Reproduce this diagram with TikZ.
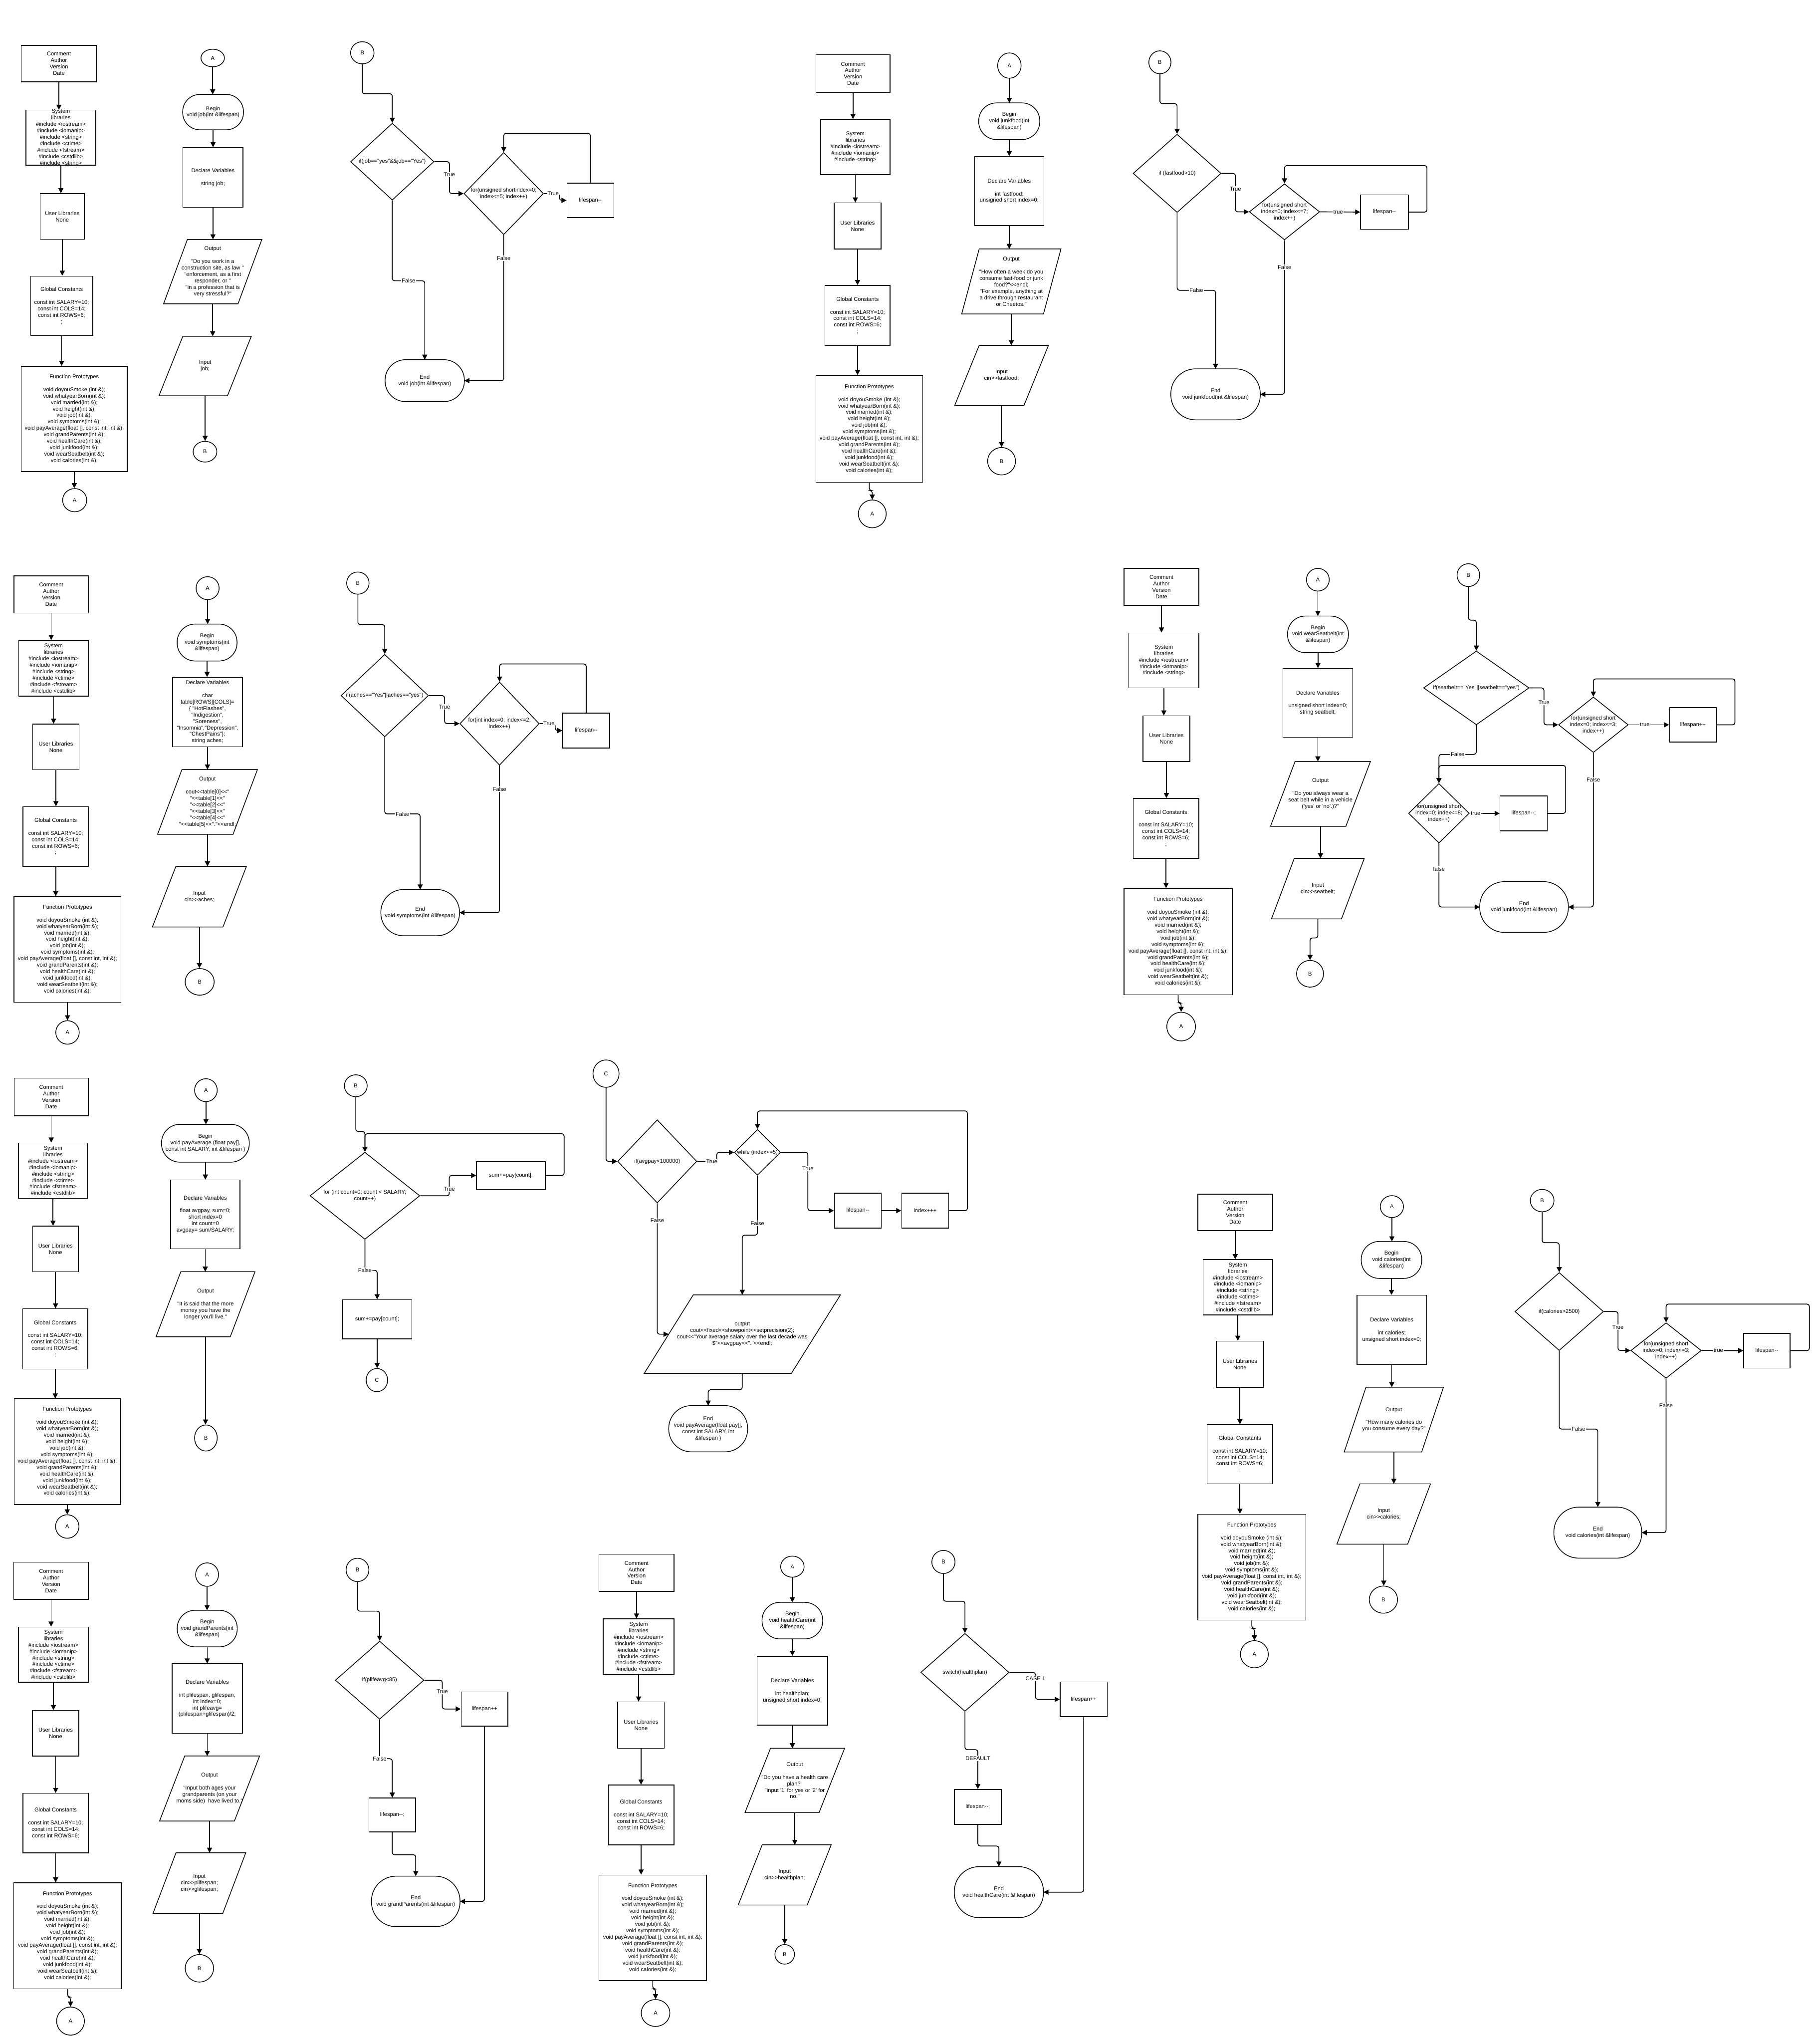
\documentclass[tikz,border=0pt]{standalone}
\usepackage{fontspec}
\newfontfamily\lsans{Liberation Sans}
\usetikzlibrary{shapes.geometric,arrows.meta}
\newdimen\U \U=2.8282pt
\newcommand\myfs{\lsans\fontsize{12}{14}\selectfont}
\tikzset{
  shp/.style={draw, line width=1.6pt},
  box/.style={shp, rectangle, inner sep=0pt},
  dia/.style={shp, diamond, inner sep=0pt},
  ell/.style={shp, ellipse, inner sep=0pt},
  txt/.style={inner sep=0pt, align=center, font=\myfs},
  sz/.style 2 args={minimum width=#1*\U, minimum height=#2*\U},
  arr/.style={draw, line width=1.8pt, rounded corners=5pt, -{Triangle[length=11pt,width=11pt]}},
  lbl/.style={fill=white, inner sep=1.5pt, font=\myfs},
}
% shapes: name, x, y, w, h, text
\newcommand\Bx[6]{\node[box,sz={#4}{#5}] (#1) at (#2,#3) {}; \node[txt] (#1t) at (#1.center) {#6};}
\newcommand\Di[6]{\node[dia,sz={#4}{#5}] (#1) at (#2,#3) {}; \node[txt] (#1t) at (#1.center) {#6};}
\newcommand\Ci[6]{\node[ell,sz={#4}{#5}] (#1) at (#2,#3) {}; \node[txt] (#1t) at (#1.center) {#6};}
\newcommand\Tm[6]{\node[txt,sz={#4}{#5}] (#1) at (#2,#3) {};
  \draw[shp,rounded corners={0.49*#5*\U}] (#1.north west) rectangle (#1.south east);
  \node[txt] (#1t) at (#1.center) {#6};}
% parallelogram: name, x, y, w, h, slant, text
\newcommand\Pa[7]{\node[txt,sz={#4}{#5}] (#1) at (#2,#3) {};
  \draw[shp] ([xshift=#6*\U]#1.north west) -- (#1.north east) -- ([xshift=-#6*\U]#1.south east) -- (#1.south west) -- cycle;
  \coordinate (#1w) at ([xshift=#6*\U/2]#1.west);
  \node[txt] (#1t) at (#1.center) {#7};}
\newcommand\vdown[2]{\draw[arr] (#1.south) -- (#1.south |- #2.north);}
\newcommand\jog[3]{\draw[arr] (#1.south) -- ++(0,#3) -| (#2.north);}
\newcommand\cmt{Comment\\Author\\Version\\Date}
\newcommand\usr{User Libraries\\None}
\newcommand\sysshort{System\\libraries\\\#include <iostream>\\\#include <iomanip>\\\#include <string>}
\newcommand\syslong{System\\libraries\\\#include <iostream>\\\#include <iomanip>\\\#include <string>\\\#include <ctime>\\\#include <fstream>\\\#include <cstdlib>}
\newcommand\gconst{Global Constants\\[14pt]const int SALARY=10;\\const int COLS=14;\\const int ROWS=6;\\;}
\newcommand\gconstb{Global Constants\\[14pt]const int SALARY=10;\\const int COLS=14;\\const int ROWS=6;}
\newcommand\protos{Function Prototypes\\[14pt]void doyouSmoke (int \&);\\void whatyearBorn(int \&);\\void married(int \&);\\void height(int \&);\\void job(int \&);\\void symptoms(int \&);\\void payAverage(float [], const int, int \&);\\void grandParents(int \&);\\void healthCare(int \&);\\void junkfood(int \&);\\void wearSeatbelt(int \&);\\void calories(int \&);}
\begin{document}
\begin{tikzpicture}[x=\U,y=-\U]
\fill[white] (0,0) rectangle (1391,1568);
\useasboundingbox (0,0) rectangle (1391,1568);

%================ Group 1: job ================
\Bx{g1c}{45.2}{48.8}{57.7}{28}{\cmt}
\Bx{g1s}{46.7}{105.6}{53.7}{42.2}{\syslong\\\#include <string>}
\Bx{g1u}{47.8}{166}{33.8}{35}{\usr}
\Bx{g1g}{47.3}{234.6}{47.7}{45.6}{\gconst}
\Bx{g1f}{57}{321.4}{81.3}{80.8}{\protos}
\Ci{g1a}{57.3}{383.7}{18.5}{17.8}{A}
\vdown{g1c}{g1s} \vdown{g1s}{g1u} \vdown{g1u}{g1g} \vdown{g1g}{g1f} \vdown{g1f}{g1a}

\Ci{g1A}{163.2}{44.5}{18}{13.5}{A}
\Tm{g1b}{163.5}{86}{46.5}{27}{Begin\\void job(int \&lifespan)}
\Bx{g1d}{163.4}{136.1}{46.2}{45.8}{Declare Variables\\[14pt]string job;}
\Pa{g1o}{163.2}{208.4}{75.3}{49.3}{18.3}{Output\\[14pt]"Do you work in a\\construction site, as law "\\"enforcement, as a first\\responder, or "\\"in a profession that is\\very stressful?"}
\Pa{g1i}{157.4}{280.8}{70.7}{45.5}{18.3}{Input\\job;}
\Ci{g1B}{157.3}{346.5}{18.2}{15.9}{B}
\vdown{g1A}{g1b} \vdown{g1b}{g1d} \vdown{g1d}{g1o} \vdown{g1o}{g1i} \vdown{g1i}{g1B}

\Ci{g1B2}{278}{40.5}{18}{17}{B}
\Di{g1if}{301}{124}{64}{59}{if(job=="yes"\&\&job=="Yes")}
\Di{g1for}{386.5}{148.5}{61}{63}{for(unsigned shortindex=0;\\index<=5; index++)}
\Bx{g1l}{453}{153.7}{36}{26.5}{lifespan--}
\Tm{g1e}{325.9}{292}{60.7}{32}{End\\void job(int \&lifespan)}
\draw[arr] (g1B2.south) -- ++(0,22.6) -| (g1if.north);
\draw[arr] (g1if.east) -- ++(11.6,0) |- node[lbl,pos=0.2]{True} (g1for.west);
\draw[arr] (g1for.east) -- node[lbl,pos=0.6]{True} ++(12,0) |- (g1l.west);
\draw[arr] (g1l.north) -- ++(0,-37.9) -| (g1for.north);
\draw[arr] (g1if.south) -- ++(0,61.6) -| node[lbl,pos=0.25]{False} (g1e.north);
\draw[arr] (g1for.south) |- node[lbl,pos=0.08]{False} (g1e.east);

%================ Group 2: junkfood ================
\Bx{g2c}{654.5}{56.5}{57}{29}{\cmt}
\Bx{g2s}{656.3}{112.8}{53.4}{42.4}{\sysshort}
\Bx{g2u}{658}{173.3}{36}{35.4}{\usr}
\Bx{g2g}{658}{242}{50}{46}{\gconst}
\Bx{g2f}{667}{329}{82}{82}{\protos}
\Ci{g2a}{669.3}{394.2}{21.4}{21.3}{A}
\vdown{g2c}{g2s} \vdown{g2s}{g2u} \vdown{g2u}{g2g} \vdown{g2g}{g2f} \jog{g2f}{g2a}{6}

\Ci{g2A}{774.5}{50.3}{18}{19.4}{A}
\Tm{g2b}{774.4}{93}{46.7}{28}{Begin\\void junkfood(int\\\&lifespan)}
\Bx{g2d}{774.4}{146.5}{53.3}{53}{Declare Variables\\[14pt]int fastfood;\\unsigned short index=0;}
\Pa{g2o}{776}{215.9}{76}{49.7}{13.4}{Output\\[14pt]"How often a week do you\\consume fast-food or junk\\food?"<<endl;\\"For example, anything at\\a drive through restaurant\\or Cheetos."}
\Pa{g2i}{768.5}{288}{71.8}{46}{18.8}{Input\\cin>>fastfood;}
\Ci{g2B}{768.5}{353.8}{21.4}{21}{B}
\vdown{g2A}{g2b} \vdown{g2b}{g2d} \vdown{g2d}{g2o} \vdown{g2o}{g2i} \vdown{g2i}{g2B}

\Ci{g2B2}{890}{47.8}{17}{17.6}{B}
\Di{g2if}{903.2}{133}{67.5}{60}{if (fastfood>10)}
\Di{g2for}{985.6}{162.5}{54}{43}{for(unsigned short\\index=0; index<=7;\\index++)}
\Bx{g2l}{1062.3}{162.7}{36.6}{26.5}{lifespan--}
\Tm{g2e}{932.7}{302.5}{68.5}{39}{End\\void junkfood(int \&lifespan)}
\draw[arr] (g2B2.south) -- ++(0,22.6) -| (g2if.north);
\draw[arr] (g2if.east) -- ++(10.7,0) |- node[lbl,pos=0.2]{True} (g2for.west);
\draw[arr] (g2for.east) -- node[lbl,pos=0.45]{true} (g2l.west);
\draw[arr] (g2l.east) -- ++(14,0) -- ++(0,-35.7) -| (g2for.north);
\draw[arr] (g2if.south) -- ++(0,59.4) -| node[lbl,pos=0.25]{False} (g2e.north);
\draw[arr] (g2for.south) |- node[lbl,pos=0.0875]{False} (g2e.east);

%================ Group 3: symptoms ================
\Bx{g3c}{39.3}{456}{57.2}{28.5}{\cmt}
\Bx{g3s}{41.1}{512.6}{53.6}{42.7}{\syslong}
\Bx{g3u}{42.9}{573}{35.6}{35.1}{\usr}
\Bx{g3g}{42.75}{641.7}{50.3}{45.9}{\gconst}
\Bx{g3f}{51.8}{728.3}{82.2}{81}{\protos}
\Ci{g3a}{51.8}{792}{18}{18}{A}
\vdown{g3c}{g3s} \vdown{g3s}{g3u} \vdown{g3u}{g3g} \vdown{g3g}{g3f} \vdown{g3f}{g3a}

\Ci{g3A}{159.3}{451.2}{17.7}{17.6}{A}
\Tm{g3b}{158.9}{492.9}{45.8}{28.2}{Begin\\void symptoms(int\\\&lifespan)}
\Bx{g3d}{159.2}{546.2}{53.6}{53.2}{Declare Variables\\[14pt]char\\table[ROWS][COLS]=\\\{ "HotFlashes",\\"Indigestion",\\"Soreness",\\"Insomnia","Depression",\\"ChestPains"\};\\string aches;}
\Pa{g3o}{159.2}{615.2}{76.5}{49.5}{18.7}{Output\\[14pt]cout<<table[0]<<"\\"<<table[1]<<"\\"<<table[2]<<"\\"<<table[3]<<"\\"<<table[4]<<"\\"<<table[5]<<"."<<endl;}
\Pa{g3i}{153}{687.9}{72}{46.3}{18}{Input\\cin>>aches;}
\Ci{g3B}{153.2}{753.2}{22.3}{20.4}{B}
\vdown{g3A}{g3b} \vdown{g3b}{g3d} \vdown{g3d}{g3o} \vdown{g3o}{g3i} \vdown{g3i}{g3B}

\Ci{g3B2}{274.6}{447.3}{17.2}{17}{B}
\Di{g3if}{295.2}{533.6}{67.1}{63.2}{if(aches=="Yes"||aches=="yes")}
\Di{g3for}{383.3}{555.1}{60.9}{63.8}{for(int index=0; index<=2;\\index++)}
\Bx{g3l}{449.8}{560.4}{36.1}{26.8}{lifespan--}
\Tm{g3e}{322.4}{700.1}{60.2}{35.3}{End\\void symptoms(int \&lifespan)}
\draw[arr] (g3B2.south) -- ++(0,23) -| (g3if.north);
\draw[arr] (g3if.east) -- ++(12.1,0) |- node[lbl,pos=0.2]{True} (g3for.west);
\draw[arr] (g3for.east) -- node[lbl,pos=0.6]{True} ++(12,0) |- (g3l.west);
\draw[arr] (g3l.north) -- ++(0,-37.4) -| (g3for.north);
\draw[arr] (g3if.south) -- ++(0,58.9) -| node[lbl,pos=0.25]{False} (g3e.north);
\draw[arr] (g3for.south) |- node[lbl,pos=0.08]{False} (g3e.east);

%================ Group 4: wearSeatbelt ================
\Bx{g4c}{891.2}{450.2}{57.3}{28.3}{\cmt}
\Bx{g4s}{893}{506.6}{53.9}{42.2}{\sysshort}
\Bx{g4u}{895}{566.7}{35.9}{35.1}{\usr}
\Bx{g4g}{894.7}{635.5}{50.4}{46}{\gconst}
\Bx{g4f}{904}{722.3}{82.9}{81.5}{\protos}
\Ci{g4a}{906.3}{787.5}{22}{22}{A}
\vdown{g4c}{g4s} \vdown{g4s}{g4u} \vdown{g4u}{g4g} \vdown{g4g}{g4f} \jog{g4f}{g4a}{6}

\Ci{g4A}{1011.2}{444.7}{17.5}{17.4}{A}
\Tm{g4b}{1011.3}{486.6}{46.6}{27.9}{Begin\\void wearSeatbelt(int\\\&lifespan)}
\Bx{g4d}{1011.2}{539.2}{53.5}{52.9}{Declare Variables\\[14pt]unsigned short index=0;\\string seatbelt;}
\Pa{g4o}{1013.2}{609}{76.6}{49.7}{18.9}{Output\\[14pt]"Do you always wear a\\seat belt while in a vehicle\\('yes' or 'no'.)?"}
\Pa{g4i}{1011.2}{681.7}{71.1}{46.3}{17.5}{Input\\cin>>seatbelt;}
\Ci{g4B}{1005.2}{747}{20.7}{20.5}{B}
\vdown{g4A}{g4b} \vdown{g4b}{g4d} \vdown{g4d}{g4o} \vdown{g4o}{g4i} \jog{g4i}{g4B}{14.6}

\Ci{g4B2}{1126.7}{441.2}{17.4}{17.5}{B}
\Di{g4if}{1132.8}{527.7}{81}{56.6}{if(seatbelt=="Yes"||seatbelt=="yes")}
\Di{g4fa}{1222.6}{556}{53.5}{42.6}{for(unsigned short\\index=0; index<=3;\\index++)}
\Bx{g4la}{1299}{556}{36}{26.3}{lifespan++}
\Di{g4fb}{1104.1}{623.9}{46.6}{45.7}{for(unsigned short\\index=0; index<=8;\\index++)}
\Bx{g4lb}{1169.1}{624}{36.2}{26.7}{lifespan--;}
\Tm{g4e}{1169.4}{695.8}{67.9}{38.8}{End\\void junkfood(int \&lifespan)}
\draw[arr] (g4B2.south) -- ++(0,25.5) -| (g4if.north);
\draw[arr] (g4if.east) -- ++(11.1,0) |- node[lbl,pos=0.2]{True} (g4fa.west);
\draw[arr] (g4fa.east) -- node[lbl,pos=0.4]{true} (g4la.west);
\draw[arr] (g4la.east) -- ++(13.9,0) -- ++(0,-35.2) -| (g4fa.north);
\draw[arr] (g4if.south) -- ++(0,22.4) -| node[lbl,pos=0.25]{False} (g4fb.north);
\draw[arr] (g4fb.east) -- node[lbl,pos=0.2]{true} (g4lb.west);
\draw[arr] (g4lb.east) -- ++(13.8,0) -- ++(0,-36.8) -| (g4fb.north);
\draw[arr] (g4fb.south) |- node[lbl,pos=0.2]{false} (g4e.west);
\draw[arr] (g4fa.south) |- node[lbl,pos=0.087]{False} (g4e.east);

%================ Group 5: payAverage ================
\Bx{g5c}{39.3}{841.5}{56.8}{28.8}{\cmt}
\Bx{g5s}{40.7}{898}{53.1}{42.5}{\syslong}
\Bx{g5u}{42.6}{958.1}{35}{35.1}{\usr}
\Bx{g5g}{42.4}{1027.1}{49.8}{46.2}{\gconst}
\Bx{g5f}{51.6}{1113.6}{81.5}{81}{\protos}
\Ci{g5a}{51.6}{1171}{18}{18}{A}
\vdown{g5c}{g5s} \vdown{g5s}{g5u} \vdown{g5u}{g5g} \vdown{g5g}{g5f} \vdown{g5f}{g5a}

\Ci{g5A}{158}{836.3}{17.4}{17.6}{A}
\Tm{g5b}{157.6}{877}{67.2}{28.9}{Begin\\void payAverage (float pay[],\\const int SALARY, int \&lifespan )}
\Bx{g5d}{157.5}{931.6}{53.3}{52.8}{Declare Variables\\[14pt]float avgpay, sum=0;\\short index=0\\int count=0\\avgpay= sum/SALARY;}
\Pa{g5o}{157.7}{1000.5}{75.8}{49.8}{19}{Output\\[14pt]"It is said that the more\\money you have the\\longer you'll live."}
\Ci{g5B}{158}{1103.1}{17.4}{20}{B}
\vdown{g5A}{g5b} \vdown{g5b}{g5d} \vdown{g5d}{g5o} \vdown{g5o}{g5B}

\Ci{g5B2}{273}{832.9}{17.5}{16.8}{B}
\Di{g5for}{280}{917.3}{84.3}{66.8}{for (int count=0; count < SALARY;\\count++)}
\Bx{g5sa}{392}{901.7}{52.7}{21.3}{sum+=pay[count];}
\Bx{g5sb}{289.4}{1012}{53.1}{30}{sum+=pay[count];}
\Ci{g5C}{289.2}{1058.7}{16.5}{17.8}{C}
\draw[arr] (g5B2.south) -- ++(0,26.4) -| (g5for.north);
\draw[arr] (g5for.east) -- ++(22.3,0) |- node[lbl,pos=0.16]{True} (g5sa.west);
\draw[arr] (g5sa.east) -- ++(14.2,0) -- ++(0,-32) -| (g5for.north);
\draw[arr] (g5for.south) -- node[lbl,pos=1]{False} ++(0,23.5) -| (g5sb.north);
\draw[arr] (g5sb.south) -- (g5sb.south |- g5C.north);

\Ci{g5C2}{465}{823.6}{20}{21}{C}
\Di{g5if}{504.3}{890.9}{60.7}{63.8}{if(avgpay<100000)}
\Di{g5wh}{581.2}{884}{35.4}{35.1}{while (index<=5)}
\Bx{g5ls}{658.2}{928.7}{36.1}{26.7}{lifespan--}
\Bx{g5ix}{709.9}{928.7}{36.1}{26.7}{index+++}
\Pa{g5out}{569.55}{1023.5}{150.5}{60.2}{37.7}{output\\cout<<fixed<<showpoint<<setprecision(2);\\cout<<"Your average salary over the last decade was\\\$"<<avgpay<<"."<<endl;}
\Tm{g5e}{543.4}{1096}{60.4}{35.3}{End\\void payAverage(float pay[],\\const int SALARY, int\\\&lifespan )}
\draw[arr] (g5C2.south) |- (g5if.west);
\draw[arr] (g5if.east) -- node[lbl,pos=0.75]{True} ++(15,0) |- (g5wh.west);
\draw[arr] (g5wh.east) -- ++(20.7,0) |- node[lbl,pos=0.14]{True} (g5ls.west);
\draw[arr] (g5ls.east) -- (g5ix.west);
\draw[arr] (g5ix.east) -- ++(14.1,0) -- ++(0,-76.5) -| (g5wh.north);
\draw[arr] (g5wh.south) -- node[lbl,pos=0.8]{False} ++(0,45.7) -| (g5out.north);
\draw[arr] (g5if.south) |- node[lbl,pos=0.066]{False} (g5outw);
\draw[arr] (g5out.south) -- ++(0,12.4) -| (g5e.north);

%================ Group 6: calories ================
\Bx{g6c}{947.8}{930}{57.4}{28}{\cmt}
\Bx{g6s}{949.8}{987.5}{53.4}{42.5}{\syslong}
\Bx{g6u}{951.4}{1046.5}{36.1}{35.4}{\usr}
\Bx{g6g}{951.4}{1115.6}{50.3}{45.4}{\gconst}
\Bx{g6f}{960.5}{1202.2}{82.8}{81.3}{\protos}
\Ci{g6a}{962.5}{1269}{21.4}{20.8}{A}
\vdown{g6c}{g6s} \vdown{g6s}{g6u} \vdown{g6u}{g6g} \vdown{g6g}{g6f} \jog{g6f}{g6a}{6}

\Ci{g6A}{1068}{925.6}{17.8}{16.8}{A}
\Tm{g6b}{1067.7}{966.5}{46.3}{28.2}{Begin\\void calories(int\\\&lifespan)}
\Bx{g6d}{1067.9}{1020.2}{53.5}{53.1}{Declare Variables\\[14pt]int calories;\\unsigned short index=0;}
\Pa{g6o}{1069.5}{1089}{76}{49.5}{16.7}{Output\\[14pt]"How many calories do\\you consume every day?"}
\Pa{g6i}{1061.75}{1161.4}{71.7}{46.1}{17.6}{Input\\cin>>calories;}
\Ci{g6B}{1061.5}{1227.1}{21.7}{20.8}{B}
\vdown{g6A}{g6b} \vdown{g6b}{g6d} \vdown{g6d}{g6o} \vdown{g6o}{g6i} \vdown{g6i}{g6B}

\Ci{g6B2}{1183.3}{921}{18.2}{17.2}{B}
\Di{g6if}{1196.4}{1006.1}{68}{59.8}{if(calories>2500)}
\Di{g6for}{1278.4}{1036}{54.1}{42.6}{for(unsigned short\\index=0; index<=3;\\index++)}
\Bx{g6l}{1355.7}{1036.1}{35.5}{26.6}{lifespan--}
\Tm{g6e}{1226}{1175.7}{67.3}{39}{End\\void calories(int \&lifespan)}
\draw[arr] (g6B2.south) -- ++(0,23.4) -| (g6if.north);
\draw[arr] (g6if.east) -- ++(10.8,0) |- node[lbl,pos=0.2]{True} (g6for.west);
\draw[arr] (g6for.east) -- node[lbl,pos=0.4]{true} (g6l.west);
\draw[arr] (g6l.east) -- ++(14.6,0) -- ++(0,-35.7) -| (g6for.north);
\draw[arr] (g6if.south) -- ++(0,60) -| node[lbl,pos=0.25]{False} (g6e.north);
\draw[arr] (g6for.south) |- node[lbl,pos=0.087]{False} (g6e.east);

%================ Group 7: grandParents ================
\Bx{g7c}{39.2}{1212.7}{57.2}{28.5}{\cmt}
\Bx{g7s}{41}{1269.3}{53.7}{42.4}{\syslong}
\Bx{g7u}{42.7}{1329.6}{35.6}{35}{\usr}
\Bx{g7g}{42.7}{1398.5}{50.2}{45.6}{\gconstb}
\Bx{g7f}{51.85}{1485}{82.5}{81.3}{\protos}
\Ci{g7a}{54.1}{1550.4}{21.3}{21.6}{A}
\vdown{g7c}{g7s} \vdown{g7s}{g7u} \vdown{g7u}{g7g} \vdown{g7g}{g7f} \jog{g7f}{g7a}{6}

\Ci{g7A}{158.9}{1207.9}{17.6}{18}{A}
\Tm{g7b}{159}{1249.3}{45.9}{27.9}{Begin\\void grandParents(int\\\&lifespan)}
\Bx{g7d}{159}{1303}{54}{53.3}{Declare Variables\\[14pt]int plifespan, glifespan;\\int index=0;\\int plifeavg=\\(plifespan+glifespan)/2;}
\Pa{g7o}{160.8}{1372}{76.6}{49.7}{19.3}{Output\\[14pt]"Input both ages your\\grandparents (on your\\moms side)~ have lived to."}
\Pa{g7i}{153}{1444.5}{71}{46.3}{17.6}{Input\\cin>>plifespan;\\cin>>glifespan;}
\Ci{g7B}{153}{1509.9}{21.8}{21.1}{B}
\vdown{g7A}{g7b} \vdown{g7b}{g7d} \vdown{g7d}{g7o} \vdown{g7o}{g7i} \vdown{g7i}{g7B}

\Ci{g7B2}{274.3}{1204.3}{17.5}{17.9}{B}
\Di{g7if}{291.3}{1288.9}{68}{59.9}{if(plifeavg<85)}
\Bx{g7lp}{371.8}{1311}{35.9}{26.3}{lifespan++}
\Bx{g7lm}{301}{1392.3}{35.9}{26}{lifespan--;}
\Tm{g7e}{319}{1458.6}{67.8}{38.6}{End\\void grandParents(int \&lifespan)}
\draw[arr] (g7B2.south) -- ++(0,22.4) -| (g7if.north);
\draw[arr] (g7if.east) -- ++(13.8,0) |- node[lbl,pos=0.2]{True} (g7lp.west);
\draw[arr] (g7if.south) -- node[lbl,pos=1]{False} ++(0,30) -| (g7lm.north);
\draw[arr] (g7lm.south) -- ++(0,17.2) -| (g7e.north);
\draw[arr] (g7lp.south) |- (g7e.east);

%================ Group 8: healthCare ================
\Bx{g8c}{488.4}{1206.5}{57.5}{28.6}{\cmt}
\Bx{g8s}{490}{1263.2}{54.2}{42.6}{\syslong}
\Bx{g8u}{491.9}{1323.4}{35.8}{35.6}{\usr}
\Bx{g8g}{491.95}{1392.3}{50.3}{46}{\gconstb}
\Bx{g8f}{500.85}{1478.9}{82.5}{81.1}{\protos}
\Ci{g8a}{503}{1544.2}{22}{20.6}{A}
\vdown{g8c}{g8s} \vdown{g8s}{g8u} \vdown{g8u}{g8g} \vdown{g8g}{g8f} \jog{g8f}{g8a}{6}

\Ci{g8A}{608}{1201.8}{18}{16.2}{A}
\Tm{g8b}{608}{1243.2}{46.4}{27.9}{Begin\\void healthCare(int\\\&lifespan)}
\Bx{g8d}{608}{1296.9}{54.1}{52.8}{Declare Variables\\[14pt]int healthplan;\\unsigned short index=0;}
\Pa{g8o}{609.85}{1365.8}{76.3}{49.2}{19.6}{Output\\[14pt]"Do you have a health care\\plan?"\\"input '1' for yes or '2' for\\no."}
\Pa{g8i}{602.1}{1438.3}{71.2}{46}{18.4}{Input\\cin>>healthplan;}
\Ci{g8B}{602.1}{1499.2}{15}{15}{B}
\vdown{g8A}{g8b} \vdown{g8b}{g8d} \vdown{g8d}{g8o} \vdown{g8o}{g8i} \vdown{g8i}{g8B}

\Ci{g8B2}{723.9}{1198.2}{17.8}{17.7}{B}
\Di{g8sw}{740.4}{1282.9}{67.8}{59.8}{switch(healthplan)}
\Bx{g8lp}{831.5}{1303.6}{36.1}{26.6}{lifespan++}
\Bx{g8lm}{750.3}{1386.1}{36.1}{26.8}{lifespan--;}
\Tm{g8e}{766.45}{1451.5}{68.3}{39}{End\\void healthCare(int \&lifespan)}
\draw[arr] (g8B2.south) -- ++(0,21) -| (g8sw.north);
\draw[arr] (g8sw.east) -- ++(19.9,0) |- node[lbl,pos=0.11]{CASE 1} (g8lp.west);
\draw[arr] (g8sw.south) -- ++(0,29.1) -| node[lbl,pos=0.61]{DEFAULT} (g8lm.north);
\draw[arr] (g8lm.south) -- ++(0,16.3) -| (g8e.north);
\draw[arr] (g8lp.south) |- (g8e.east);
\end{tikzpicture}
\end{document}
